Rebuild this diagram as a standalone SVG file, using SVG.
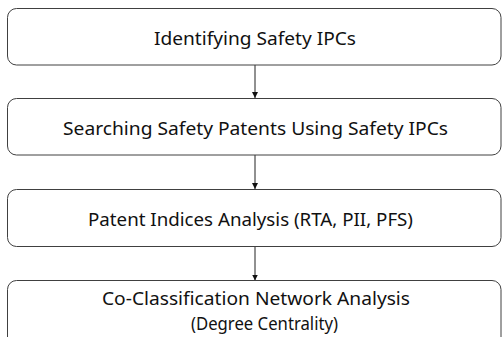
<svg xmlns="http://www.w3.org/2000/svg" width="502" height="337" viewBox="0 0 502 337">
<defs>
<style>
.box{fill:#fff;stroke:#404040;stroke-width:1}
.t{font-family:"Noto Sans","Open Sans",sans-serif;font-size:18px;fill:#111;text-anchor:middle}
.c{stroke:#222;stroke-width:1;fill:none}
</style>
<marker id="ah" viewBox="0 0 6 6" refX="6" refY="3" markerWidth="6" markerHeight="6" orient="auto" markerUnits="userSpaceOnUse">
<path d="M0,0 L6,3 L0,6 z" fill="#111"/>
</marker>
</defs>
<rect width="502" height="337" fill="#fff"/>
<g id="connectors">
<line class="c" x1="255" y1="65" x2="255" y2="98" marker-end="url(#ah)"/>
<line class="c" x1="255" y1="155" x2="255" y2="189" marker-end="url(#ah)"/>
<line class="c" x1="255" y1="247" x2="255" y2="280.5" marker-end="url(#ah)"/>
</g>
<g id="n1">
<rect class="box" x="7.5" y="8.5" width="493.5" height="56.5" rx="9"/>
<text class="t" x="255" y="44.5" textLength="202" lengthAdjust="spacingAndGlyphs">Identifying Safety IPCs</text>
</g>
<g id="n2">
<rect class="box" x="7.5" y="98.5" width="493.5" height="56.5" rx="9"/>
<text class="t" x="255.5" y="134.5" textLength="385" lengthAdjust="spacingAndGlyphs">Searching Safety Patents Using Safety IPCs</text>
</g>
<g id="n3">
<rect class="box" x="7.5" y="189.5" width="493.5" height="57" rx="9"/>
<text class="t" x="250.5" y="225.5" textLength="325" lengthAdjust="spacingAndGlyphs">Patent Indices Analysis (RTA, PII, PFS)</text>
</g>
<g id="n4">
<rect class="box" x="7.5" y="280.5" width="493.5" height="70" rx="9"/>
<text class="t" x="256" y="305" textLength="308" lengthAdjust="spacingAndGlyphs">Co-Classification Network Analysis</text>
<text class="t" x="264.5" y="330" textLength="147" lengthAdjust="spacingAndGlyphs">(Degree Centrality)</text>
</g>
</svg>
